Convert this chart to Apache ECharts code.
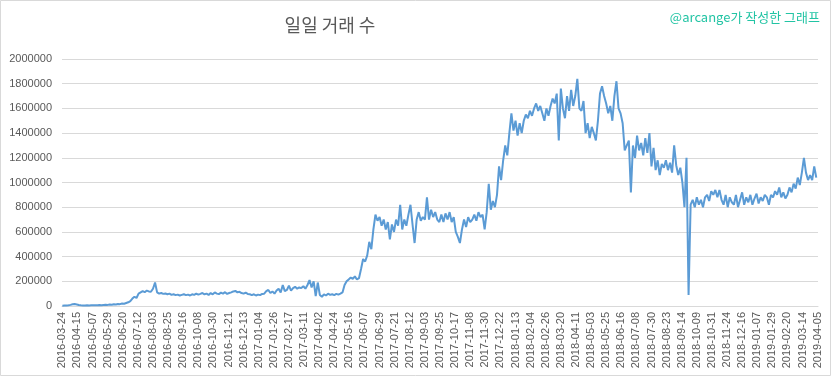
<!DOCTYPE html>
<html>
<head>
<meta charset="utf-8">
<script src="https://cdn.jsdelivr.net/npm/echarts@6/dist/echarts.min.js"></script>
<style>
html,body{margin:0;padding:0;background:#fff;}
#chart{width:833px;height:379px;}
</style>
</head>
<body>
<div id="chart"></div>
<script>
// ---- data ----
const chartTitle = '일일 거래 수';
const watermark = '@arcange가 작성한 그래프';
const firstDate = '2016-03-24';
const lastDate = '2019-04-05';
const missingDates = ['2018-08-10','2018-08-11','2018-09-27','2018-09-28','2018-09-29','2018-11-10','2018-11-11'];
const labelEvery = 22;        // one date label every 22 categories
const sampleStep = 3;         // one reading every 3 categories
const yTicks = [0,200000,400000,600000,800000,1000000,1200000,1400000,1600000,1800000,2000000];
// daily transactions, every 3rd category
const dailyTx = [
3000,4000,5000,6000,9000,14000,16000,12000,8000,6000,
5000,5000,6000,5000,6000,7000,6000,7000,8000,7000,
9000,11000,9000,12000,10000,14000,12000,16000,15000,20000,
18000,24000,30000,40000,60000,75000,65000,100000,110000,120000,
112000,125000,118000,115000,140000,190000,110000,100000,105000,98000,
102000,95000,100000,90000,95000,88000,92000,85000,90000,95000,
88000,92000,85000,95000,90000,100000,92000,98000,105000,95000,
100000,90000,105000,95000,110000,100000,96000,108000,100000,112000,
98000,105000,110000,118000,122000,110000,115000,105000,100000,108000,
98000,95000,88000,95000,85000,92000,88000,98000,100000,120000,
130000,105000,118000,100000,125000,140000,110000,170000,120000,130000,
165000,125000,145000,155000,140000,150000,145000,160000,140000,170000,
210000,150000,200000,80000,190000,90000,75000,95000,85000,100000,
90000,95000,88000,98000,92000,100000,110000,170000,200000,215000,
230000,220000,240000,215000,225000,300000,380000,360000,410000,520000,
460000,620000,740000,690000,720000,650000,700000,620000,680000,540000,
660000,600000,700000,650000,820000,620000,700000,650000,740000,820000,
660000,510000,700000,760000,690000,720000,700000,880000,700000,780000,
720000,760000,700000,680000,740000,680000,750000,700000,760000,680000,
720000,600000,560000,510000,620000,700000,640000,720000,680000,700000,
740000,690000,760000,720000,740000,620000,760000,990000,780000,850000,
800000,900000,1130000,1020000,1180000,1300000,1220000,1400000,1560000,1420000,
1500000,1380000,1480000,1400000,1500000,1550000,1520000,1580000,1540000,1600000,
1640000,1580000,1620000,1560000,1500000,1600000,1540000,1620000,1680000,1640000,
1720000,1340000,1760000,1600000,1520000,1700000,1580000,1750000,1620000,1700000,
1840000,1600000,1580000,1660000,1400000,1480000,1360000,1450000,1400000,1340000,
1500000,1720000,1780000,1700000,1640000,1560000,1620000,1500000,1700000,1820000,
1600000,1560000,1480000,1260000,1300000,1340000,920000,1300000,1200000,1380000,
1260000,1320000,1220000,1360000,1240000,1400000,1130000,1280000,1100000,1180000,
1060000,1150000,1120000,1180000,1100000,1160000,1080000,1300000,1140000,1060000,
1120000,1000000,800000,1200000,90000,820000,860000,800000,880000,820000,
860000,800000,880000,900000,850000,930000,900000,940000,880000,940000,
860000,820000,900000,800000,880000,840000,820000,900000,800000,860000,
920000,820000,880000,840000,900000,820000,870000,910000,830000,880000,
850000,900000,880000,820000,900000,880000,930000,900000,960000,880000,
920000,870000,900000,960000,920000,990000,950000,1040000,980000,1080000,
1200000,1080000,1020000,1060000,1020000,1130000,1040000
];

// ---- categories (every calendar day, minus the days missing from the source) ----
function buildDates(a, b, skip) {
  const out = [];
  const d = new Date(a + 'T00:00:00Z');
  const end = new Date(b + 'T00:00:00Z');
  while (d <= end) {
    const s = d.toISOString().slice(0, 10);
    if (skip.indexOf(s) < 0) out.push(s);
    d.setUTCDate(d.getUTCDate() + 1);
  }
  return out;
}
const categories = buildDates(firstDate, lastDate, missingDates);
const seriesData = dailyTx.map((v, i) => [i * sampleStep, v]);

const chart = echarts.init(document.getElementById('chart'), null, {renderer: 'canvas'});
chart.setOption({
  animation: false,
  backgroundColor: '#ffffff',
  grid: {left: 62, right: 15, top: 59, bottom: 73, containLabel: false},
  graphic: [
    {type: 'rect', shape: {x: 0.5, y: 0.5, width: 830, height: 375},
     style: {fill: 'none', stroke: '#d9d9d9', lineWidth: 1}, silent: true},
    {type: 'text', x: 330, y: 25,
     style: {text: chartTitle, fill: '#595959', font: '18px "Noto Sans CJK KR"', textAlign: 'center', textVerticalAlign: 'middle'}},
    {type: 'text', x: 820, y: 17,
     style: {text: watermark, fill: '#22c4a4', font: '13px "Noto Sans CJK KR"', textAlign: 'right', textVerticalAlign: 'middle'}}
  ],
  xAxis: {
    type: 'category',
    data: categories,
    boundaryGap: true,
    axisLine: {lineStyle: {color: '#d9d9d9', width: 1}},
    axisTick: {show: false},
    axisLabel: {
      interval: labelEvery - 1,
      rotate: 90,
      margin: 6,
      color: '#595959',
      fontFamily: '"Liberation Sans", Arial, sans-serif',
      fontSize: 11
    },
    splitLine: {show: false}
  },
  yAxis: {
    type: 'value',
    min: yTicks[0],
    max: yTicks[yTicks.length - 1],
    interval: yTicks[1] - yTicks[0],
    axisLine: {show: false},
    axisTick: {show: false},
    axisLabel: {
      color: '#595959',
      fontFamily: '"Liberation Sans", Arial, sans-serif',
      fontSize: 11,
      margin: 10,
      formatter: v => String(v)
    },
    splitLine: {lineStyle: {color: '#d9d9d9', width: 1}}
  },
  series: [{
    type: 'line',
    data: seriesData,
    showSymbol: false,
    symbol: 'none',
    lineStyle: {color: '#5b9bd5', width: 2},
    itemStyle: {color: '#5b9bd5'}
  }]
});
</script>
</body>
</html>
